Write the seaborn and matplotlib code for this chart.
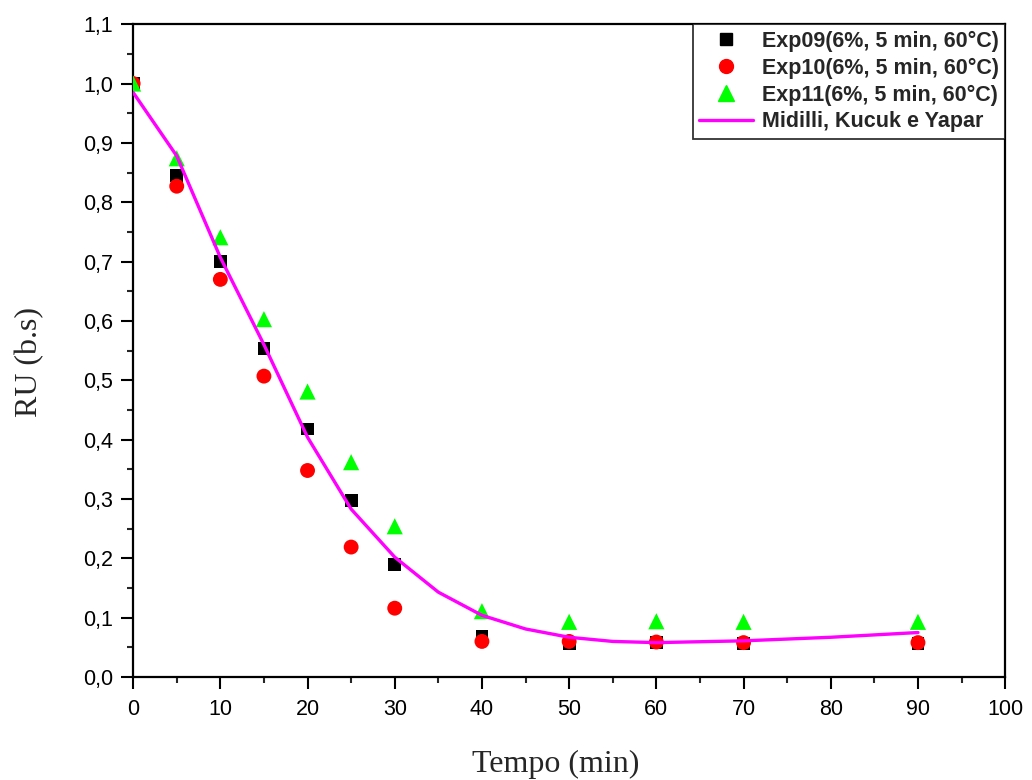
import numpy as np
import pandas as pd
import matplotlib
matplotlib.use("Agg")
import matplotlib.pyplot as plt
import seaborn as sns
from matplotlib.ticker import MultipleLocator, FuncFormatter
from matplotlib.lines import Line2D

# Experimental drying data (moisture ratio, dry basis)
tempo = [0, 5, 10, 15, 20, 25, 30, 40, 50, 60, 70, 90]
exp09 = [1.000, 0.845, 0.700, 0.554, 0.418, 0.298, 0.189, 0.069, 0.057, 0.058, 0.057, 0.057]
exp10 = [1.000, 0.827, 0.670, 0.507, 0.348, 0.219, 0.116, 0.060, 0.060, 0.059, 0.058, 0.058]
exp11 = [1.000, 0.874, 0.741, 0.603, 0.481, 0.362, 0.254, 0.111, 0.093, 0.094, 0.093, 0.093]

# Midilli, Kucuk e Yapar model curve
tempo_modelo = [0, 5, 10, 15, 20, 25, 30, 35, 40, 45, 50, 55, 60, 70, 80, 90]
ru_modelo = [0.985, 0.878, 0.707, 0.560, 0.404, 0.283, 0.202, 0.143, 0.104, 0.081,
             0.067, 0.060, 0.058, 0.061, 0.067, 0.075]

series_names = ["Exp09(6%, 5 min, 60°C)", "Exp10(6%, 5 min, 60°C)", "Exp11(6%, 5 min, 60°C)"]
model_name = "Midilli, Kucuk e Yapar"

df = pd.DataFrame({
    "tempo": tempo * 3,
    "ru": exp09 + exp10 + exp11,
    "serie": [series_names[0]] * len(tempo) + [series_names[1]] * len(tempo) + [series_names[2]] * len(tempo),
})
df_model = pd.DataFrame({"tempo": tempo_modelo, "ru": ru_modelo})

sns.set_style("white")
plt.rcParams["font.family"] = ["Liberation Sans", "DejaVu Sans"]

fig = plt.figure(figsize=(10.32, 7.80), dpi=100)
ax = fig.add_axes([0.129, 0.132, 0.845, 0.837])

colors = {series_names[0]: "#000000", series_names[1]: "#ff0000", series_names[2]: "#00ff00"}
markers = {series_names[0]: "s", series_names[1]: "o", series_names[2]: "^"}
sizes = {series_names[0]: 85, series_names[1]: 115, series_names[2]: 135}

for name in series_names:
    sub = df[df["serie"] == name]
    sns.scatterplot(data=sub, x="tempo", y="ru", color=colors[name], marker=markers[name],
                    s=sizes[name], edgecolor="none", ax=ax, legend=False, zorder=3)

sns.lineplot(data=df_model, x="tempo", y="ru", color="#ff00ff", linewidth=2.4, ax=ax,
             legend=False, zorder=4)

ax.set_xlim(0, 100)
ax.set_ylim(0, 1.1)
ax.xaxis.set_major_locator(MultipleLocator(10))
ax.xaxis.set_minor_locator(MultipleLocator(5))
ax.yaxis.set_major_locator(MultipleLocator(0.1))
ax.yaxis.set_minor_locator(MultipleLocator(0.05))
ax.yaxis.set_major_formatter(FuncFormatter(lambda v, p: f"{v:.1f}".replace(".", ",")))
ax.xaxis.set_major_formatter(FuncFormatter(lambda v, p: f"{v:.0f}"))

ax.tick_params(axis="both", which="major", direction="out", length=8.5, width=1.5,
               labelsize=15.5, colors="black", bottom=True, left=True, top=False, right=False)
ax.tick_params(axis="x", which="major", pad=7)
ax.tick_params(axis="y", which="major", pad=6)
ax.tick_params(axis="both", which="minor", direction="out", length=4.5, width=1.5,
               bottom=True, left=True, top=False, right=False)

for sp in ax.spines.values():
    sp.set_color("black")
    sp.set_linewidth(1.6)
    sp.set_visible(True)

ax.set_xlabel("Tempo (min)", fontsize=23, family=["Liberation Serif", "DejaVu Serif"])
ax.set_ylabel("RU (b.s)", fontsize=23, family=["Liberation Serif", "DejaVu Serif"])
ax.xaxis.set_label_coords(0.484, -0.111)
ax.yaxis.set_label_coords(-0.102, 0.482)

handles = [
    Line2D([], [], linestyle="none", marker="s", color="#000000", markersize=8.5),
    Line2D([], [], linestyle="none", marker="o", color="#ff0000", markersize=10),
    Line2D([], [], linestyle="none", marker="^", color="#00ff00", markersize=11),
    Line2D([], [], color="#ff00ff", linewidth=2.4),
]
leg = ax.legend(handles, series_names + [model_name], loc="upper right",
                bbox_to_anchor=(1.0, 1.0), frameon=True, fancybox=False,
                prop={"weight": "bold", "size": 15.5}, handlelength=2.5,
                handletextpad=0.4, borderpad=0.3, labelspacing=0.27,
                borderaxespad=0.0)
leg.get_frame().set_edgecolor("black")
leg.get_frame().set_linewidth(1.3)

fig.savefig("out.png", dpi=100, facecolor="white")
